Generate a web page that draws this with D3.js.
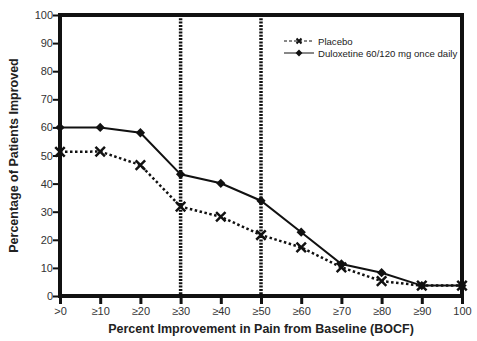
<!DOCTYPE html>
<html lang="en">
<head>
<meta charset="UTF-8">
<title>Percentage of Patients Improved</title>
<script src="https://d3js.org/d3.v7.min.js"></script>
<style>
  body { margin: 0; background: #fff; }
  svg { display: block; font-family: Arial, "Liberation Sans", sans-serif; }
  .tick-label { fill: #333; font-size: 11px; }
  .axis-title { fill: #222; font-size: 12.5px; font-weight: bold; }
  .legend-text { fill: #222; font-size: 9.6px; }
</style>
</head>
<body>
<svg id="chart" width="477" height="341"></svg>
<script>
  // thresholds along the x axis
  const thresholds = [0, 10, 20, 30, 40, 50, 60, 70, 80, 90, 100];
  const xTickLabels = [">0", "\u226510", "\u226520", "\u226530", "\u226540", "\u226550", "\u226560", "\u226570", "\u226580", "\u226590", "100"];
  const yTicks = [0, 10, 20, 30, 40, 50, 60, 70, 80, 90, 100];

  const placebo = [51.3, 51.4, 46.6, 31.8, 28.2, 21.7, 17.3, 10.2, 5.3, 3.7, 3.7];
  const duloxetine = [60, 60, 58.1, 43.3, 40.1, 33.9, 22.7, 11.4, 8.3, 3.7, 3.7];

  const referenceLines = [30, 50];

  const margin = { top: 15, right: 15, bottom: 45, left: 60 };
  const width = 477, height = 341;

  const svg = d3.select("#chart");

  const x = d3.scaleLinear().domain([0, 100]).range([margin.left, width - margin.right]);
  const y = d3.scaleLinear().domain([0, 100]).range([height - margin.bottom, margin.top]);

  // y axis ticks and labels
  const yAxis = svg.append("g").attr("transform", `translate(${margin.left},0)`)
    .call(d3.axisLeft(y).tickValues(yTicks).tickSize(7).tickFormat(d3.format("d")));
  yAxis.select(".domain").remove();
  yAxis.selectAll(".tick line").attr("stroke", "#111").attr("stroke-width", 2);
  yAxis.selectAll(".tick text").attr("class", "tick-label").attr("x", -7).attr("font-family", null).attr("font-size", null);

  // x axis ticks and labels
  const xAxis = svg.append("g").attr("transform", `translate(0,${height - margin.bottom})`)
    .call(d3.axisBottom(x).tickValues(thresholds).tickSize(8).tickFormat((d, i) => xTickLabels[i]));
  xAxis.select(".domain").remove();
  xAxis.selectAll(".tick line").attr("stroke", "#111").attr("stroke-width", 3);
  xAxis.selectAll(".tick text").attr("class", "tick-label").attr("y", 11).attr("font-family", null).attr("font-size", null);

  // frame
  svg.append("rect")
    .attr("x", x(0)).attr("y", y(100))
    .attr("width", x(100) - x(0)).attr("height", y(0) - y(100))
    .attr("fill", "none").attr("stroke", "#111").attr("stroke-width", 4);

  // dotted reference lines
  svg.selectAll(".ref-line").data(referenceLines).join("line")
    .attr("class", "ref-line")
    .attr("x1", d => x(d)).attr("x2", d => x(d))
    .attr("y1", y(100)).attr("y2", y(0))
    .attr("stroke", "#111").attr("stroke-width", 3.5).attr("stroke-dasharray", "2,1.3");

  const line = d3.line().x((d, i) => x(thresholds[i])).y(d => y(d));

  svg.append("path").datum(placebo)
    .attr("d", line).attr("fill", "none")
    .attr("stroke", "#111").attr("stroke-width", 2.5).attr("stroke-dasharray", "2.5,2.5");

  svg.append("path").datum(duloxetine)
    .attr("d", line).attr("fill", "none")
    .attr("stroke", "#111").attr("stroke-width", 2);

  // markers
  const cross = d3.symbol().type(d3.symbolX).size(60);
  const diamond = d3.symbol().type(d3.symbolDiamond2).size(55);

  svg.selectAll(".pl-mark").data(placebo).join("path")
    .attr("class", "pl-mark")
    .attr("transform", (d, i) => `translate(${x(thresholds[i])},${y(d)})`)
    .attr("d", cross).attr("fill", "none").attr("stroke", "#111").attr("stroke-width", 2.5);

  svg.selectAll(".du-mark").data(duloxetine).join("path")
    .attr("class", "du-mark")
    .attr("transform", (d, i) => `translate(${x(thresholds[i])},${y(d)})`)
    .attr("d", diamond).attr("fill", "#111");

  // legend
  const legend = svg.append("g").attr("transform", "translate(284,0)");
  legend.append("line").attr("x1", 0).attr("x2", 30).attr("y1", 41).attr("y2", 41)
    .attr("stroke", "#111").attr("stroke-width", 1).attr("stroke-dasharray", "3,2");
  legend.append("path").attr("transform", "translate(15,41)")
    .attr("d", d3.symbol().type(d3.symbolX).size(18)).attr("stroke", "#111").attr("stroke-width", 2);
  legend.append("text").attr("class", "legend-text").attr("x", 34).attr("y", 44.5).text("Placebo");

  legend.append("line").attr("x1", 0).attr("x2", 30).attr("y1", 53).attr("y2", 53)
    .attr("stroke", "#111").attr("stroke-width", 1);
  legend.append("path").attr("transform", "translate(15,53)")
    .attr("d", d3.symbol().type(d3.symbolDiamond2).size(30)).attr("fill", "#111");
  legend.append("text").attr("class", "legend-text").attr("x", 34).attr("y", 56.5).text("Duloxetine 60/120 mg once daily");

  // axis titles
  svg.append("text").attr("class", "axis-title")
    .attr("x", (x(0) + x(100)) / 2).attr("y", 333).attr("text-anchor", "middle")
    .text("Percent Improvement in Pain from Baseline (BOCF)");

  svg.append("text").attr("class", "axis-title")
    .attr("transform", `translate(18,${(y(0) + y(100)) / 2}) rotate(-90)`)
    .attr("text-anchor", "middle")
    .text("Percentage of Patients Improved");
</script>
</body>
</html>
